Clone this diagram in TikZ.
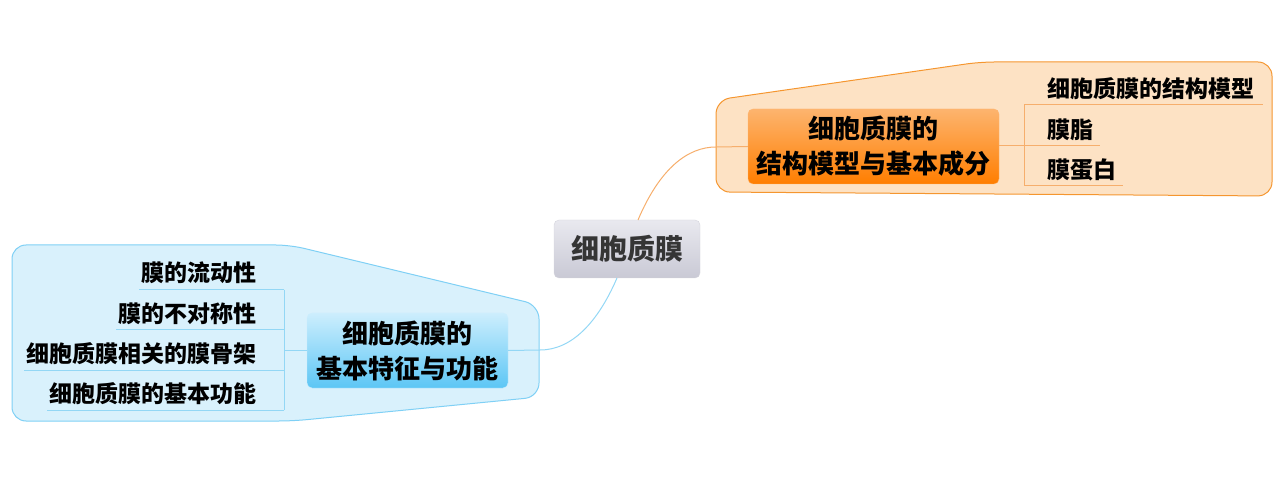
\documentclass[tikz,border=0pt]{standalone}
\usepackage{fontspec}
\setmainfont{Noto Sans CJK SC}[BoldFont={Noto Sans CJK SC Black}]
\usetikzlibrary{calc}
\definecolor{ofill}{HTML}{FDE2C4}
\definecolor{ostroke}{HTML}{F5962F}
\definecolor{oline}{HTML}{F6AE6C}
\definecolor{otop}{HTML}{FDB46E}
\definecolor{obot}{HTML}{FF7E00}
\definecolor{bfill}{HTML}{D9F1FC}
\definecolor{bstroke}{HTML}{7FD0F5}
\definecolor{bline}{HTML}{93D7F5}
\definecolor{btop}{HTML}{CDEEFD}
\definecolor{bbot}{HTML}{5CC6F5}
\definecolor{ctop}{HTML}{E9E9EF}
\definecolor{cbot}{HTML}{C9C9D5}
\definecolor{cstroke}{HTML}{D4D4DC}
\definecolor{ctext}{HTML}{353535}
\tikzset{
  obound/.style={draw=ostroke, fill=ofill, line width=1pt, rounded corners=14pt},
  bbound/.style={draw=bstroke, fill=bfill, line width=1pt, rounded corners=14pt},
  olink/.style={draw=oline, line width=1pt},
  blink/.style={draw=bline, line width=1pt},
  centernode/.style={draw=cstroke, rounded corners=5pt, top color=ctop, bottom color=cbot,
    minimum width=146pt, minimum height=58pt, inner sep=0pt, text=ctext,
    font=\fontsize{28}{30}\selectfont\bfseries},
  otopic/.style={draw=otop, rounded corners=5pt, top color=otop, bottom color=obot,
    minimum width=251pt, minimum height=75pt, inner sep=0pt, align=center,
    font=\fontsize{26}{35}\selectfont\bfseries},
  btopic/.style={draw=btop, rounded corners=5pt, top color=btop, bottom color=bbot,
    minimum width=201pt, minimum height=75pt, inner sep=0pt, align=center,
    font=\fontsize{26}{35}\selectfont\bfseries},
  sub/.style={inner sep=0pt, font=\fontsize{23}{25}\selectfont\bfseries}
}
\begin{document}
\begin{tikzpicture}[x=1pt,y=-1pt]
\useasboundingbox (0,0) rectangle (1280,486);
% boundaries
\path[obound] (716,150) -- (716,100) -- (980,62) -- (1272,62) -- (1272,196) -- (716,192) -- cycle;
\path[bbound] (12,330) -- (12,245) -- (290,245) -- (539,305) -- (539,397) -- (293,421) -- (12,421) -- cycle;
% nodes
\node[centernode] (c) at (627,249) {细胞质膜};
\coordinate (cvo) at (638,220);
\coordinate (cvb) at (617,278);
\node[otopic] (ot) at (873.5,146.5) {细胞质膜的\\结构模型与基本成分};
\node[btopic] (bt) at (407.5,350.5) {细胞质膜的\\基本特征与功能};
% main connectors
\draw[olink] (cvo) .. controls (660,168) and (688,147) .. (716,147) -- (ot.west);
\draw[blink] (cvb) .. controls (598,322) and (572,350) .. (540,350) -- (bt.east);
% right subtopics
\node[sub, anchor=west] (r1) at (1047,89) {细胞质膜的结构模型};
\node[sub, anchor=west] (r2) at (1047,130) {膜脂};
\node[sub, anchor=west] (r3) at (1047,170) {膜蛋白};
\coordinate (rv1) at (1024,105);
\coordinate (rv2) at (1024,146);
\coordinate (rv3) at (1024,186);
\draw[olink] (rv1) -- (rv3);
\draw[olink] (rv1) -- ($(rv1 -| r1.east)+(9,0)$);
\draw[olink] (ot.east |- rv2) -- ($(rv2 -| r2.east)+(7,0)$);
\draw[olink] (rv3) -- ($(rv3 -| r3.east)+(7,0)$);
% left subtopics
\node[sub, anchor=east] (l1) at (257,273) {膜的流动性};
\node[sub, anchor=east] (l2) at (257,314) {膜的不对称性};
\node[sub, anchor=east] (l3) at (257,354) {细胞质膜相关的膜骨架};
\node[sub, anchor=east] (l4) at (257,394) {细胞质膜的基本功能};
\coordinate (lv1) at (284,290);
\coordinate (lv2) at (284,330);
\coordinate (lv3) at (284,370);
\coordinate (lv4) at (284,410);
\coordinate (lvm) at (284,350.5);
\draw[blink] (lv1) -- (lv4);
\draw[blink] (bt.west) -- (lvm);
\draw[blink] (lv1) -- ($(lv1 -| l1.west)+(-3,0)$);
\draw[blink] (lv2) -- ($(lv2 -| l2.west)+(-3,0)$);
\draw[blink] (lv3) -- ($(lv3 -| l3.west)+(-3,0)$);
\draw[blink] (lv4) -- ($(lv4 -| l4.west)+(-3,0)$);
\end{tikzpicture}
\end{document}
